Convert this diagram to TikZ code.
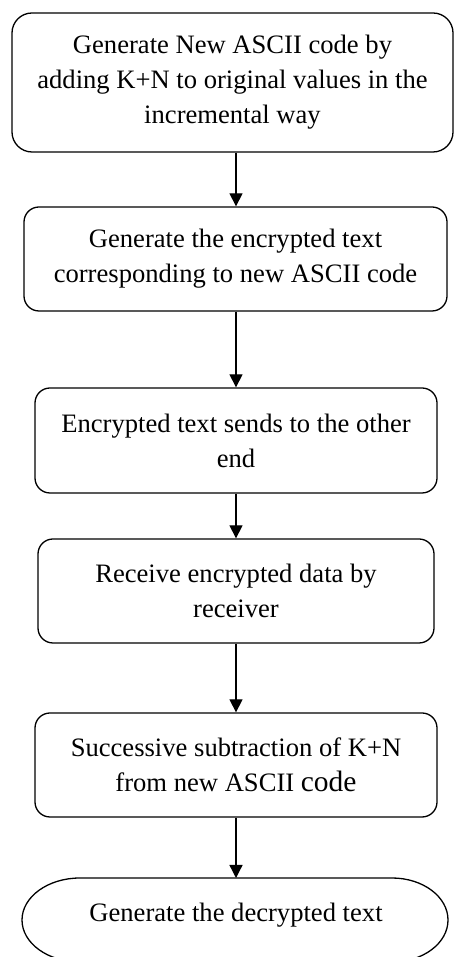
\documentclass[tikz,border=0pt]{standalone}
\usepackage{fontspec}
\setmainfont{Liberation Serif}
\usetikzlibrary{arrows.meta}
\begin{document}
\begin{tikzpicture}[x=1pt,y=1pt,
  stepbox/.style={draw, line width=1.3pt, rounded corners=15pt, align=center,
    inner sep=0pt, font=\fontsize{26.6}{35}\selectfont},
  flow/.style={line width=1.3pt, -{Triangle[width=13pt,length=13pt]}},
  label/.style={inner sep=0pt, font=\fontsize{26.6}{35}\selectfont}]
\useasboundingbox (0,0) rectangle (455,957);
\clip (0,0) rectangle (455,957);

% vertical axis of the connectors
\coordinate (axis) at (236,0);

% process steps
\node[stepbox, rounded corners=20pt, minimum width=441pt, minimum height=139pt] (b1) at (232.5,874.5)
  {Generate New ASCII code by\\adding K+N to original values in the\\incremental way};
\node[stepbox, minimum width=423pt, minimum height=104pt] (b2) at (235.5,698)
  {Generate the encrypted text\\corresponding to new ASCII code};
\node[stepbox, minimum width=402pt, minimum height=105pt] (b3) at (236,516.5)
  {Encrypted text sends to the other\\end};
\node[stepbox, minimum width=396pt, minimum height=104pt] (b4) at (236,366)
  {Receive encrypted data by\\receiver};
\node[stepbox, minimum width=402pt, minimum height=104pt] (b5) at (236,192)
  {Successive subtraction of K+N\\from new ASCII {\fontsize{29.5}{35}\selectfont code}};

% terminal: flat top and bottom with elliptical ends
\draw[line width=1.3pt] (80,79) -- (392,79)
  arc[start angle=90, end angle=-90, x radius=56, y radius=42] -- (80,-5)
  arc[start angle=270, end angle=90, x radius=58, y radius=42] -- cycle;
\coordinate (t6top) at (236,79);
\node[label, anchor=base] (t6) at (236,35) {Generate the decrypted text};

% connectors
\draw[flow] (b1.south -| axis) -- (b2.north -| axis);
\draw[flow] (b2.south -| axis) -- (b3.north -| axis);
\draw[flow] (b3.south -| axis) -- (b4.north -| axis);
\draw[flow] (b4.south -| axis) -- (b5.north -| axis);
\draw[flow] (b5.south -| axis) -- (t6top);
\end{tikzpicture}
\end{document}
